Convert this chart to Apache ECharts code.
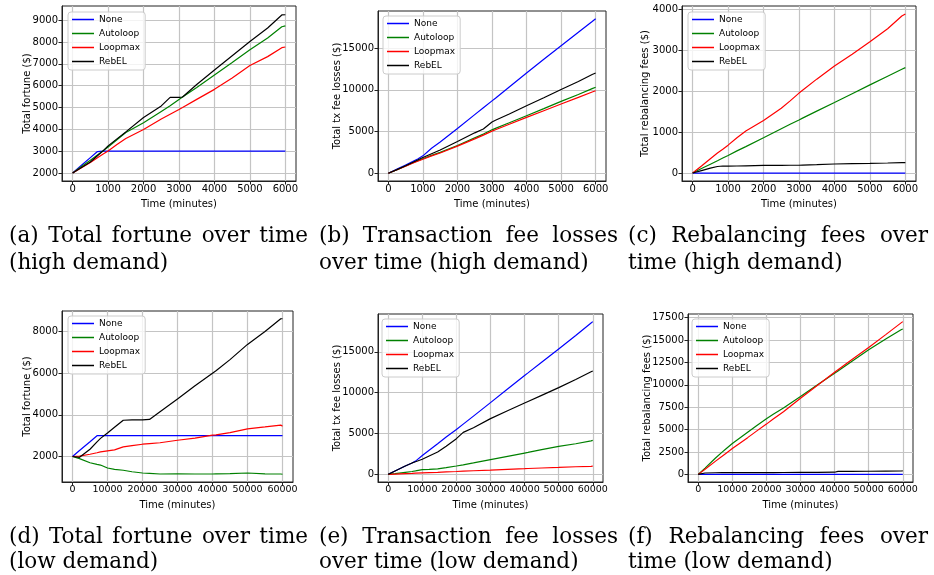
<!DOCTYPE html>
<html>
<head>
<meta charset="utf-8">
<script src="https://cdn.jsdelivr.net/npm/echarts@6/dist/echarts.min.js"></script>
<style>
html,body{margin:0;padding:0;background:#fff}
#chart{width:934px;height:575px}
</style>
</head>
<body>
<div id="chart"></div>
<script>
// sample times (minutes)
const tHigh = [0, 250, 500, 700, 850, 1000, 1250, 1500, 2000, 2500, 2750, 3000, 3100, 3500, 4000, 4500, 5000, 5500, 5900, 6000];
const tLow = [0, 2000, 5000, 7000, 8000, 10000, 12000, 14500, 17000, 20000, 22000, 25000, 30000, 35000, 40000, 41000, 45000, 50000, 55000, 59500, 60000];

// (a) total fortune, high demand
const fortuneHighNone = [2000, 2350, 2700, 2980, 3000, 3000, 3000, 3000, 3000, 3000, 3000, 3000, 3000, 3000, 3000, 3000, 3000, 3000, 3000, 3000];
const fortuneHighAuto = [2000, 2290, 2580, 2820, 3000, 3190, 3520, 3850, 4300, 4820, 5080, 5370, 5480, 5920, 6490, 7060, 7640, 8180, 8700, 8740];
const fortuneHighLoop = [2000, 2240, 2480, 2700, 2860, 3010, 3300, 3580, 3990, 4470, 4690, 4910, 5000, 5370, 5830, 6350, 6920, 7330, 7740, 7770];
const fortuneHighRebel = [2000, 2250, 2500, 2790, 3000, 3240, 3560, 3880, 4540, 5070, 5460, 5460, 5480, 6050, 6720, 7370, 8020, 8640, 9240, 9250];

// (b) tx fee losses, high demand
const txHighNone = [0, 500, 1000, 1400, 1720, 2090, 3000, 3740, 5380, 7030, 7850, 8680, 9000, 10350, 12030, 13680, 15300, 16900, 18200, 18530];
const txHighAuto = [0, 430, 870, 1250, 1500, 1750, 2150, 2500, 3330, 4250, 4700, 5210, 5380, 6050, 6900, 7750, 8620, 9450, 10150, 10310];
const txHighLoop = [0, 420, 850, 1220, 1450, 1680, 2080, 2430, 3250, 4130, 4580, 5050, 5220, 5880, 6700, 7500, 8300, 9100, 9750, 9900];
const txHighRebel = [0, 440, 900, 1300, 1600, 1900, 2350, 2800, 3810, 4850, 5300, 6150, 6350, 7100, 8100, 9050, 10050, 11000, 11850, 12030];

// (c) rebalancing fees, high demand
const rebHighNone = [0, 0, 0, 0, 0, 0, 0, 0, 0, 0, 0, 0, 0, 0, 0, 0, 0, 0, 0, 0];
const rebHighAuto = [0, 110, 215, 300, 365, 430, 540, 645, 860, 1080, 1190, 1295, 1340, 1510, 1720, 1935, 2150, 2360, 2530, 2570];
const rebHighLoop = [0, 170, 350, 490, 580, 680, 860, 1025, 1280, 1580, 1760, 1950, 2020, 2290, 2610, 2900, 3200, 3520, 3830, 3880];
const rebHighRebel = [0, 60, 120, 160, 172, 170, 172, 176, 185, 188, 190, 190, 195, 205, 220, 228, 235, 245, 254, 255];

// (d) total fortune, low demand
const fortuneLowNone = [2000, 2290, 2710, 3000, 3000, 3000, 3000, 3000, 3000, 3000, 3000, 3000, 3000, 3000, 3000, 3000, 3000, 3000, 3000, 3000, 3000];
const fortuneLowAuto = [2000, 1900, 1700, 1620, 1590, 1450, 1380, 1340, 1270, 1210, 1190, 1160, 1170, 1160, 1160, 1170, 1180, 1210, 1170, 1160, 1150];
const fortuneLowLoop = [2000, 2020, 2110, 2180, 2220, 2270, 2320, 2460, 2520, 2590, 2620, 2660, 2780, 2880, 3030, 3040, 3150, 3330, 3420, 3510, 3450];
const fortuneLowRebel = [2000, 1960, 2350, 2700, 2870, 3130, 3400, 3740, 3760, 3760, 3780, 4150, 4760, 5400, 6000, 6120, 6650, 7380, 8000, 8610, 8610];

// (e) tx fee losses, low demand
const txLowNone = [0, 420, 1020, 1400, 1620, 2300, 2950, 3750, 4580, 5500, 6150, 7130, 8780, 10450, 12100, 12420, 13720, 15350, 17000, 18530, 18690];
const txLowAuto = [0, 90, 250, 350, 420, 570, 600, 680, 820, 1020, 1170, 1400, 1800, 2200, 2610, 2690, 3030, 3430, 3750, 4100, 4160];
const txLowLoop = [0, 40, 100, 130, 150, 180, 210, 250, 300, 350, 390, 440, 520, 610, 700, 720, 780, 850, 930, 990, 1000];
const txLowRebel = [0, 420, 1020, 1400, 1550, 1850, 2250, 2730, 3450, 4370, 5140, 5700, 6820, 7780, 8730, 8920, 9670, 10610, 11600, 12550, 12650];

// (f) rebalancing fees, low demand
const rebLowNone = [0, 0, 0, 0, 0, 0, 0, 0, 0, 0, 0, 0, 0, 0, 0, 0, 0, 0, 0, 0, 0];
const rebLowAuto = [0, 700, 1800, 2480, 2800, 3440, 4000, 4700, 5400, 6210, 6700, 7400, 8680, 10000, 11290, 11550, 12600, 13910, 15100, 16150, 16230];
const rebLowLoop = [0, 580, 1450, 2020, 2310, 2880, 3430, 4100, 4800, 5610, 6170, 7000, 8490, 9950, 11400, 11680, 12800, 14170, 15600, 16910, 17050];
const rebLowRebel = [0, 150, 180, 185, 185, 190, 192, 195, 197, 200, 205, 210, 220, 230, 240, 330, 340, 350, 365, 378, 380];

// tick labels
const xTicksHigh = [0, 1000, 2000, 3000, 4000, 5000, 6000];
const xTicksLow = [0, 10000, 20000, 30000, 40000, 50000, 60000];
const yTicksA = [2000, 3000, 4000, 5000, 6000, 7000, 8000, 9000];
const yTicksB = [0, 5000, 10000, 15000];
const yTicksC = [0, 1000, 2000, 3000, 4000];
const yTicksD = [2000, 4000, 6000, 8000];
const yTicksE = [0, 5000, 10000, 15000];
const yTicksF = [0, 2500, 5000, 7500, 10000, 12500, 15000, 17500];

const names = ['None', 'Autoloop', 'Loopmax', 'RebEL'];
const colors = ['#0000ff', '#008000', '#ff0000', '#000000'];

const panels = [
    {g: {left: 62, top: 6, width: 234, height: 175}, x: [-300, 6300], y: [1630, 9650], xt: xTicksHigh, yt: yTicksA, xf: 10,
     t: tHigh, s: [fortuneHighNone, fortuneHighAuto, fortuneHighLoop, fortuneHighRebel], yName: 'Total fortune ($)', gap: 30, lg: [68, 12]},
    {g: {left: 378, top: 11, width: 228, height: 170}, x: [-300, 6300], y: [-925, 19455], xt: xTicksHigh, yt: yTicksB, xf: 10,
     t: tHigh, s: [txHighNone, txHighAuto, txHighLoop, txHighRebel], yName: 'Total tx fee losses ($)', gap: 36, lg: [383, 16]},
    {g: {left: 682, top: 6, width: 234, height: 175}, x: [-300, 6300], y: [-194, 4074], xt: xTicksHigh, yt: yTicksC, xf: 10,
     t: tHigh, s: [rebHighNone, rebHighAuto, rebHighLoop, rebHighRebel], yName: 'Total rebalancing fees ($)', gap: 32, lg: [688, 12]},
    {g: {left: 62, top: 311, width: 231, height: 171}, x: [-3000, 63000], y: [777, 8983], xt: xTicksLow, yt: yTicksD, xf: 9.5,
     t: tLow, s: [fortuneLowNone, fortuneLowAuto, fortuneLowLoop, fortuneLowRebel], yName: 'Total fortune ($)', gap: 30, lg: [68, 316]},
    {g: {left: 378, top: 314, width: 225, height: 168}, x: [-3000, 63000], y: [-934, 19624], xt: xTicksLow, yt: yTicksE, xf: 9.5,
     t: tLow, s: [txLowNone, txLowAuto, txLowLoop, txLowRebel], yName: 'Total tx fee losses ($)', gap: 36, lg: [382, 319]},
    {g: {left: 688, top: 314, width: 225, height: 168}, x: [-3000, 63000], y: [-852, 17902], xt: xTicksLow, yt: yTicksF, xf: 9.5,
     t: tLow, s: [rebLowNone, rebLowAuto, rebLowLoop, rebLowRebel], yName: 'Total rebalancing fees ($)', gap: 36, lg: [692, 319]}
];

const captions = [
    {x0: 9, x1: 308, y: 236, words: ['(a)', 'Total', 'fortune', 'over', 'time'], justify: true},
    {x0: 9, y: 263, words: ['(high', 'demand)']},
    {x0: 319, x1: 618, y: 236, words: ['(b)', 'Transaction', 'fee', 'losses'], justify: true},
    {x0: 319, y: 263, words: ['over', 'time', '(high', 'demand)']},
    {x0: 628, x1: 928, y: 236, words: ['(c)', 'Rebalancing', 'fees', 'over'], justify: true},
    {x0: 628, y: 263, words: ['time', '(high', 'demand)']},
    {x0: 9, x1: 308, y: 537, words: ['(d)', 'Total', 'fortune', 'over', 'time'], justify: true},
    {x0: 9, y: 562, words: ['(low', 'demand)']},
    {x0: 319, x1: 618, y: 537, words: ['(e)', 'Transaction', 'fee', 'losses'], justify: true},
    {x0: 319, y: 562, words: ['over', 'time', '(low', 'demand)']},
    {x0: 628, x1: 928, y: 537, words: ['(f)', 'Rebalancing', 'fees', 'over'], justify: true},
    {x0: 628, y: 562, words: ['time', '(low', 'demand)']}
];

const capSize = 21.5;
const capFamily = 'DejaVu Serif';
const ctx = document.createElement('canvas').getContext('2d');
ctx.font = capSize + 'px "' + capFamily + '"';
function wordWidth(w) { return ctx.measureText(w).width; }

let graphics = [];
captions.forEach(c => {
    let widths = c.words.map(wordWidth);
    let gap = wordWidth(' ');
    if (c.justify) {
        let total = widths.reduce((a, b) => a + b, 0);
        gap = (c.x1 - c.x0 - total) / (c.words.length - 1);
    }
    let x = c.x0;
    c.words.forEach((w, i) => {
        graphics.push({
            type: 'text', x: x, y: c.y, silent: true,
            style: {text: w, fontSize: capSize, fontFamily: capFamily, fill: '#000', align: 'left', verticalAlign: 'middle'}
        });
        x += widths[i] + gap;
    });
});

const plain = v => String(v);

let grids = [], xAxes = [], yAxes = [], series = [], legends = [];
panels.forEach((p, i) => {
    grids.push(Object.assign({show: true, borderColor: '#222', borderWidth: 1, backgroundColor: '#fff'}, p.g));
    xAxes.push({
        gridIndex: i, type: 'value', min: p.x[0], max: p.x[1],
        name: 'Time (minutes)', nameLocation: 'middle', nameGap: 18, nameMoveOverlap: false,
        nameTextStyle: {fontSize: 10, color: '#000'},
        axisLine: {show: true, onZero: false, lineStyle: {color: '#222', width: 1}},
        axisTick: {show: true, length: 3.5, customValues: p.xt, lineStyle: {color: '#222'}},
        axisLabel: {customValues: p.xt, fontSize: p.xf, color: '#000', margin: 3, formatter: plain, hideOverlap: false},
        splitLine: {show: true, lineStyle: {color: '#c4c4c4', width: 1.2}}
    });
    yAxes.push({
        gridIndex: i, type: 'value', min: p.y[0], max: p.y[1],
        name: p.yName, nameLocation: 'middle', nameGap: p.gap, nameRotate: 90, nameMoveOverlap: false,
        nameTextStyle: {fontSize: 10, color: '#000'},
        axisLine: {show: true, onZero: false, lineStyle: {color: '#222', width: 1}},
        axisTick: {show: true, length: 3.5, customValues: p.yt, lineStyle: {color: '#222'}},
        axisLabel: {customValues: p.yt, fontSize: 10, color: '#000', margin: 4, formatter: plain, hideOverlap: false},
        splitLine: {show: true, lineStyle: {color: '#c4c4c4', width: 1.2}}
    });
    p.s.forEach((vals, k) => {
        series.push({
            type: 'line', name: names[k], xAxisIndex: i, yAxisIndex: i,
            showSymbol: false, symbol: 'none',
            lineStyle: {color: colors[k], width: 1.2},
            itemStyle: {color: colors[k]},
            data: p.t.map((t, j) => [t, vals[j]])
        });
    });
    legends.push({
        left: p.lg[0], top: p.lg[1], orient: 'vertical',
        data: names, icon: 'rect', itemWidth: 22, itemHeight: 1.5, itemGap: 3,
        padding: [2, 5, 3, 4], backgroundColor: 'rgba(255,255,255,0.8)',
        borderColor: '#cccccc', borderWidth: 1, borderRadius: 3,
        textStyle: {fontSize: 9, color: '#000', lineHeight: 11},
        selectedMode: false
    });
});

const chart = echarts.init(document.getElementById('chart'));
chart.setOption({
    animation: false,
    backgroundColor: '#fff',
    textStyle: {fontFamily: 'DejaVu Sans'},
    grid: grids,
    xAxis: xAxes,
    yAxis: yAxes,
    legend: legends,
    series: series,
    graphic: graphics
});
</script>
</body>
</html>
